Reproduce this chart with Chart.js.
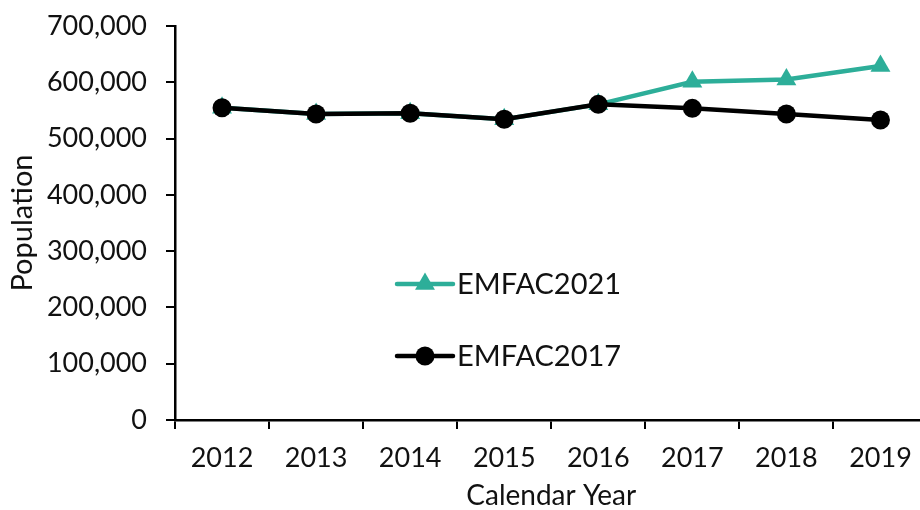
<!DOCTYPE html>
<html>
<head>
<meta charset="utf-8">
<script src="https://cdn.jsdelivr.net/npm/chart.js@4/dist/chart.umd.min.js"></script>
<style>
  html, body { margin: 0; padding: 0; background: #fff; overflow: hidden; }
  .chart-container { position: relative; width: 939px; height: 510px; }
</style>
</head>
<body>
<div class="chart-container"><canvas id="chart"></canvas></div>
<script>
const years = ['2012', '2013', '2014', '2015', '2016', '2017', '2018', '2019'];
const emfac2021 = [554800, 543600, 544900, 534200, 560800, 601000, 605000, 629000];
const emfac2017 = [554800, 543600, 544900, 534200, 560800, 553700, 543600, 533000];
const yMax = 700000;
const yStep = 100000;

const TEAL = '#2DAE99';
const FONT = 'Lato, "Noto Sans", sans-serif';
const TEXT = '#111';

// legend sits inside the plot, so draw it ourselves
const insideLegend = {
  id: 'insideLegend',
  afterDraw(chart, args, opts) {
    const ctx = chart.ctx;
    ctx.save();
    opts.items.forEach((item) => {
      const ds = chart.data.datasets[item.index];
      const y = item.y;
      ctx.strokeStyle = ds.borderColor;
      ctx.lineWidth = ds.borderWidth;
      ctx.lineCap = 'round';
      ctx.beginPath();
      ctx.moveTo(opts.x, y);
      ctx.lineTo(opts.x + opts.lineLen, y);
      ctx.stroke();
      const cx = opts.x + opts.lineLen / 2;
      const r = ds.pointRadius;
      ctx.fillStyle = ds.pointBackgroundColor;
      ctx.beginPath();
      if (ds.pointStyle === 'triangle') {
        ctx.moveTo(cx, y - r);
        ctx.lineTo(cx + Math.sin(2 * Math.PI / 3) * r, y + r / 2);
        ctx.lineTo(cx - Math.sin(2 * Math.PI / 3) * r, y + r / 2);
        ctx.closePath();
      } else {
        ctx.arc(cx, y, r, 0, Math.PI * 2);
      }
      ctx.fill();
      ctx.fillStyle = TEXT;
      ctx.font = opts.font;
      ctx.textAlign = 'left';
      ctx.textBaseline = 'middle';
      ctx.fillText(ds.label, opts.x + opts.lineLen + 4, y + 1);
    });
    ctx.restore();
  }
};

new Chart(document.getElementById('chart'), {
  type: 'line',
  data: {
    labels: years,
    datasets: [
      {
        label: 'EMFAC2021',
        data: emfac2021,
        borderColor: TEAL,
        backgroundColor: TEAL,
        pointBackgroundColor: TEAL,
        pointBorderColor: TEAL,
        borderWidth: 4.5,
        pointStyle: 'triangle',
        pointRadius: 11.5,
        pointBorderWidth: 0,
        tension: 0,
        order: 1
      },
      {
        label: 'EMFAC2017',
        data: emfac2017,
        borderColor: '#000',
        backgroundColor: '#000',
        pointBackgroundColor: '#000',
        pointBorderColor: '#000',
        borderWidth: 4.5,
        pointStyle: 'circle',
        pointRadius: 9.5,
        pointBorderWidth: 0,
        tension: 0,
        order: 0
      }
    ]
  },
  options: {
    responsive: true,
    maintainAspectRatio: false,
    animation: false,
    layout: { padding: { left: 5, top: 26, right: 3, bottom: 0 } },
    plugins: {
      legend: { display: false },
      tooltip: { enabled: false },
      insideLegend: {
        x: 397,
        lineLen: 56,
        font: '29px ' + FONT,
        items: [ { index: 0, y: 284 }, { index: 1, y: 356 } ]
      }
    },
    scales: {
      x: {
        offset: true,
        grid: { display: true, drawOnChartArea: false, drawTicks: true, tickLength: 9, color: '#000', lineWidth: 2, offset: true },
        border: { display: true, color: '#000', width: 2.5 },
        ticks: { color: TEXT, font: { family: FONT, size: 27 }, padding: 13, maxRotation: 0 },
        title: { display: true, text: 'Calendar Year', color: TEXT, font: { family: FONT, size: 28, lineHeight: 1 }, padding: 0 },
        afterFit(scale) { scale.height = 90; }
      },
      y: {
        min: 0,
        max: yMax,
        grid: { display: true, drawOnChartArea: false, drawTicks: true, tickLength: 9, color: '#000', lineWidth: 2 },
        border: { display: true, color: '#000', width: 2.5 },
        ticks: {
          stepSize: yStep,
          color: TEXT,
          font: { family: FONT, size: 27 },
          padding: 19,
          callback: (v) => v.toLocaleString('en-US')
        },
        title: { display: true, text: 'Population', color: TEXT, font: { family: FONT, size: 29 }, padding: 0 },
        afterFit(scale) {
          scale.width = 170;
          // label padding would push the plot top down; layout padding handles it
          scale.paddingTop = 0;
          scale.paddingBottom = 0;
        }
      }
    }
  },
  plugins: [insideLegend]
});
</script>
</body>
</html>
